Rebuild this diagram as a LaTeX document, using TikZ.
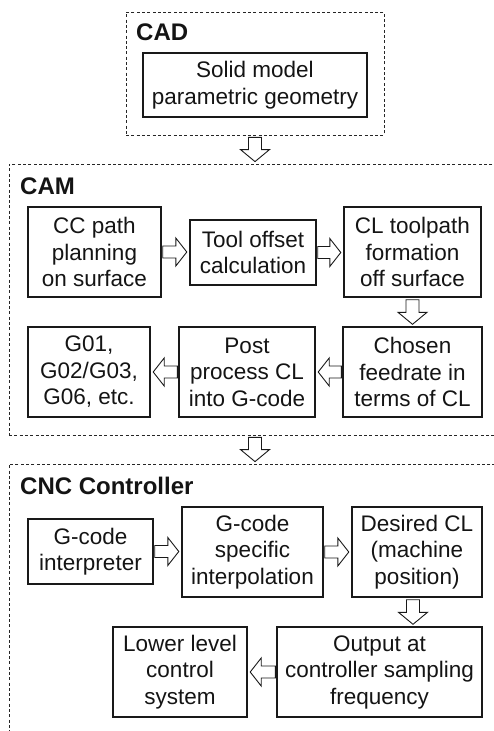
\documentclass[tikz,border=0pt]{standalone}
\usepackage{fontspec}
\setmainfont{Liberation Sans}
\usetikzlibrary{calc}
\tikzset{
  frame/.style={draw=black!85, dash pattern=on 3pt off 2.3pt, line width=0.8pt, inner sep=0pt},
  box/.style={draw=black!90, line width=1.4pt, align=center, inner sep=1pt, text=black!92,
    font=\fontsize{22.5}{26.5}\selectfont},
  title/.style={anchor=base west, inner sep=0pt, text=black!92, font=\fontsize{24}{28}\selectfont\bfseries},
  blk/.style={draw=black!90, line width=0.9pt, fill=white, line join=miter}
}
\newcommand\arrR[2]{\draw[blk] let \p1=(#1), \p2=(#2) in
  (\x1+1pt,\y1+6pt) -- (\x2-13.5pt,\y1+6pt) -- (\x2-13.5pt,\y1+14pt) -- (\x2-2.5pt,\y1)
  -- (\x2-13.5pt,\y1-14pt) -- (\x2-13.5pt,\y1-6pt) -- (\x1+1pt,\y1-6pt) -- cycle;}
\newcommand\arrL[2]{\draw[blk] let \p1=(#1), \p2=(#2) in
  (\x1-1pt,\y1+6pt) -- (\x2+13.5pt,\y1+6pt) -- (\x2+13.5pt,\y1+14pt) -- (\x2+2.5pt,\y1)
  -- (\x2+13.5pt,\y1-14pt) -- (\x2+13.5pt,\y1-6pt) -- (\x1-1pt,\y1-6pt) -- cycle;}
\newcommand\arrD[2]{\draw[blk] let \p1=(#1), \p2=(#2) in
  (\x1-6.5pt,\y1-2pt) -- (\x1-6.5pt,\y2+14pt) -- (\x1-14.5pt,\y2+14pt) -- (\x1,\y2+2pt)
  -- (\x1+14.5pt,\y2+14pt) -- (\x1+6.5pt,\y2+14pt) -- (\x1+6.5pt,\y1-2pt) -- cycle;}
\begin{document}
\begin{tikzpicture}[x=1pt,y=-1pt]
\useasboundingbox (0,0) rectangle (494,731);
\clip (0,0) rectangle (494,731);
% frames
\node[frame, minimum width=258pt, minimum height=123pt] (cad) at (255,73.5) {};
\node[frame, minimum width=501pt, minimum height=271pt] (cam) at (259.5,299.5) {};
\node[frame, minimum width=501pt, minimum height=290pt] (cnc) at (259.5,609) {};
% titles
\node[title] (tcad) at (136,40) {CAD};
\node[title] (tcam) at (20,194) {CAM};
\node[title] (tcnc) at (20,494) {CNC Controller};
% CAD
\node[box, minimum width=224pt, minimum height=64pt] (solid) at (255,85) {Solid model\\parametric geometry};
% CAM
\node[box, minimum width=133pt, minimum height=90pt] (cc) at (94.5,252) {CC path\\planning\\on surface};
\node[box, minimum width=126pt, minimum height=65pt] (tool) at (253,252.5) {Tool offset\\calculation};
\node[box, minimum width=137pt, minimum height=90pt] (cl) at (412.5,252) {CL toolpath\\formation\\off surface};
\node[box, minimum width=122pt, minimum height=90pt] (g01) at (89,372) {G01,\\G02/G03,\\G06, etc.};
\node[box, minimum width=136pt, minimum height=90pt] (post) at (247,372) {Post\\process CL\\into G-code};
\node[box, minimum width=139pt, minimum height=90pt] (chosen) at (412.5,372) {Chosen\\feedrate in\\terms of CL};
% CNC
\node[box, minimum width=125pt, minimum height=65pt] (interp) at (90.5,551.5) {G-code\\interpreter};
\node[box, minimum width=141pt, minimum height=90pt] (spec) at (252.5,552) {G-code\\specific\\interpolation};
\node[box, minimum width=130pt, minimum height=90pt] (desired) at (417,552) {Desired CL\\(machine\\position)};
\node[box, minimum width=134pt, minimum height=90pt] (lower) at (180,672) {Lower level\\control\\system};
\node[box, minimum width=205pt, minimum height=90pt] (output) at (379.5,672) {Output at\\controller sampling\\frequency};
\coordinate (dtail) at ($(desired.south)+(-4,0)$);
% connectors
\arrD{cad.south}{cam.north}
\arrD{cad.south |- cam.south}{cnc.north}
\arrR{cc.east}{tool.west}
\arrR{tool.east}{cl.west}
\arrD{cl.south}{chosen.north}
\arrL{chosen.west}{post.east}
\arrL{post.west}{g01.east}
\arrR{interp.east}{spec.west}
\arrR{spec.east}{desired.west}
\arrD{dtail}{output.north}
\arrL{output.west}{lower.east}
\end{tikzpicture}
\end{document}
